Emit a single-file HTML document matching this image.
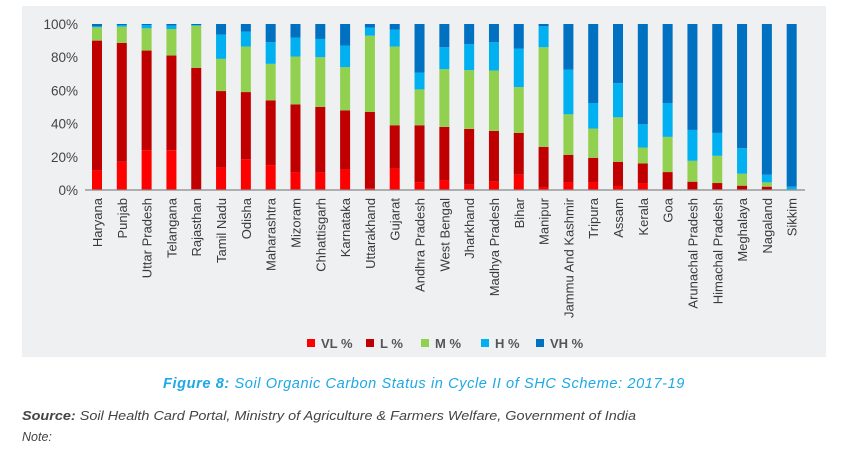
<!DOCTYPE html>
<html><head><meta charset="utf-8"><style>
body{margin:0;width:843px;height:456px;background:#fff;overflow:hidden;font-family:"Liberation Sans",sans-serif;}
</style></head><body>
<svg width="843" height="456" xmlns="http://www.w3.org/2000/svg" id="svg">
<rect x="22" y="6" width="804" height="351" fill="#eff0f2"/>
<g id="plot"></g>
<g id="legend"></g>
<text x="424" y="388" text-anchor="middle" font-size="15" letter-spacing="0.6" font-style="italic" fill="#1ea8e6" textLength="522" lengthAdjust="spacingAndGlyphs"><tspan font-weight="bold">Figure 8:</tspan> Soil Organic Carbon Status in Cycle II of SHC Scheme: 2017-19</text>
<text x="22" y="420" font-size="12.5" font-style="italic" fill="#444" textLength="614" lengthAdjust="spacingAndGlyphs"><tspan font-weight="bold">Source:</tspan> Soil Health Card Portal, Ministry of Agriculture &amp; Farmers Welfare, Government of India</text>
<text x="22" y="441" font-size="12.5" font-style="italic" fill="#444">Note:</text>
</svg>
<script>
const states=["Haryana","Punjab","Uttar Pradesh","Telangana","Rajasthan","Tamil Nadu","Odisha","Maharashtra","Mizoram","Chhattisgarh","Karnataka","Uttarakhand","Gujarat","Andhra Pradesh","West Bengal","Jharkhand","Madhya Pradesh","Bihar","Manipur","Jammu And Kashmir","Tripura","Assam","Kerala","Goa","Arunachal Pradesh","Himachal Pradesh","Meghalaya","Nagaland","Sikkim"];
const vl=[11.6,17,24,24,0.5,13.6,18.6,15,10.6,10.6,12.4,1,13,4.6,6,3.2,5,9.2,1.8,4.8,4.8,2.4,4.2,0.6,0.6,0.6,0.2,0.2,0];
const l=[78.4,71.6,60,57,73.1,46,40.4,39,41,39.4,35.6,46,26,34.4,32,33.6,30.6,25.2,24.2,16.4,14.6,14.6,11.8,10.2,4.4,3.6,2.4,1.8,0.2];
const m=[8,9.8,13.4,16,25.4,19.4,27.4,22,28.8,30,26,46,47.4,21.6,34.8,35.4,36.4,27.6,60,24.4,17.6,26.8,9.6,21.2,12.6,16.4,7.2,2.6,0.2];
const h=[0.6,1,2,2,0.4,14.6,9,13,11.4,11,13,4.8,10.2,10.2,13.2,15.6,17,23.2,12.6,27,15.4,20.6,14,20.4,18.6,13.8,15.4,4.6,1.6];
const vh=[1.4,0.6,0.6,1,0.6,6.4,4.6,11,8.2,9,13,2.2,3.4,29.2,14,12.2,11,14.8,1.4,27.4,47.6,35.6,60.4,47.6,63.8,65.6,74.8,90.8,98];
const yTicks=[0,20,40,60,80,100];
const seriesNames=["VL %","L %","M %","H %","VH %"];
const colors=["#ff0000","#c00000","#92d050","#00b0f0","#0070c0"];
const series=[vl,l,m,h,vh];
const NS="http://www.w3.org/2000/svg";
const plot=document.getElementById('plot');
const y0=190,y1=24,x0=97,step=24.81,bw=10;
const yS=v=>y0-(v/100)*(y0-y1);
const xS=i=>x0+i*step;
function el(t,a,p){const e=document.createElementNS(NS,t);for(const k in a)e.setAttribute(k,a[k]);p.appendChild(e);return e;}
yTicks.forEach(t=>{
 const tx=el('text',{x:78,y:yS(t)+5,'text-anchor':'end','font-size':13.5,fill:'#444'},plot);
 tx.textContent=t+'%';
 
 
});
states.forEach((s,i)=>{
 let cum=0;
 series.forEach((arr,k)=>{
  const v=arr[i];
  const r=el('rect',{x:xS(i)-bw/2,y:yS(cum+v),width:bw,height:Math.max(0,yS(cum)-yS(cum+v)),fill:colors[k]},plot);
  
  
  cum+=v;
 });
 const tx=el('text',{x:0,y:0,'text-anchor':'end','font-size':13,fill:'#3a3a3a',transform:`translate(${xS(i)+5},198) rotate(-90)`},plot);
 tx.textContent=s;
 
 
});
const ax=el('line',{x1:85,y1:y0,x2:805,y2:y0,stroke:'#888','stroke-width':1.2},plot);


const lg=document.getElementById('legend');
const lx=[307,366,421,481,536];
seriesNames.forEach((n,k)=>{
 const r=el('rect',{x:lx[k],y:339,width:8,height:8,fill:colors[k]},lg);
 
 
 const t=el('text',{x:lx[k]+14,y:348,'font-size':13,'font-weight':'bold',fill:'#555'},lg);
 t.textContent=n;
 
 
});
</script>
</body></html>
